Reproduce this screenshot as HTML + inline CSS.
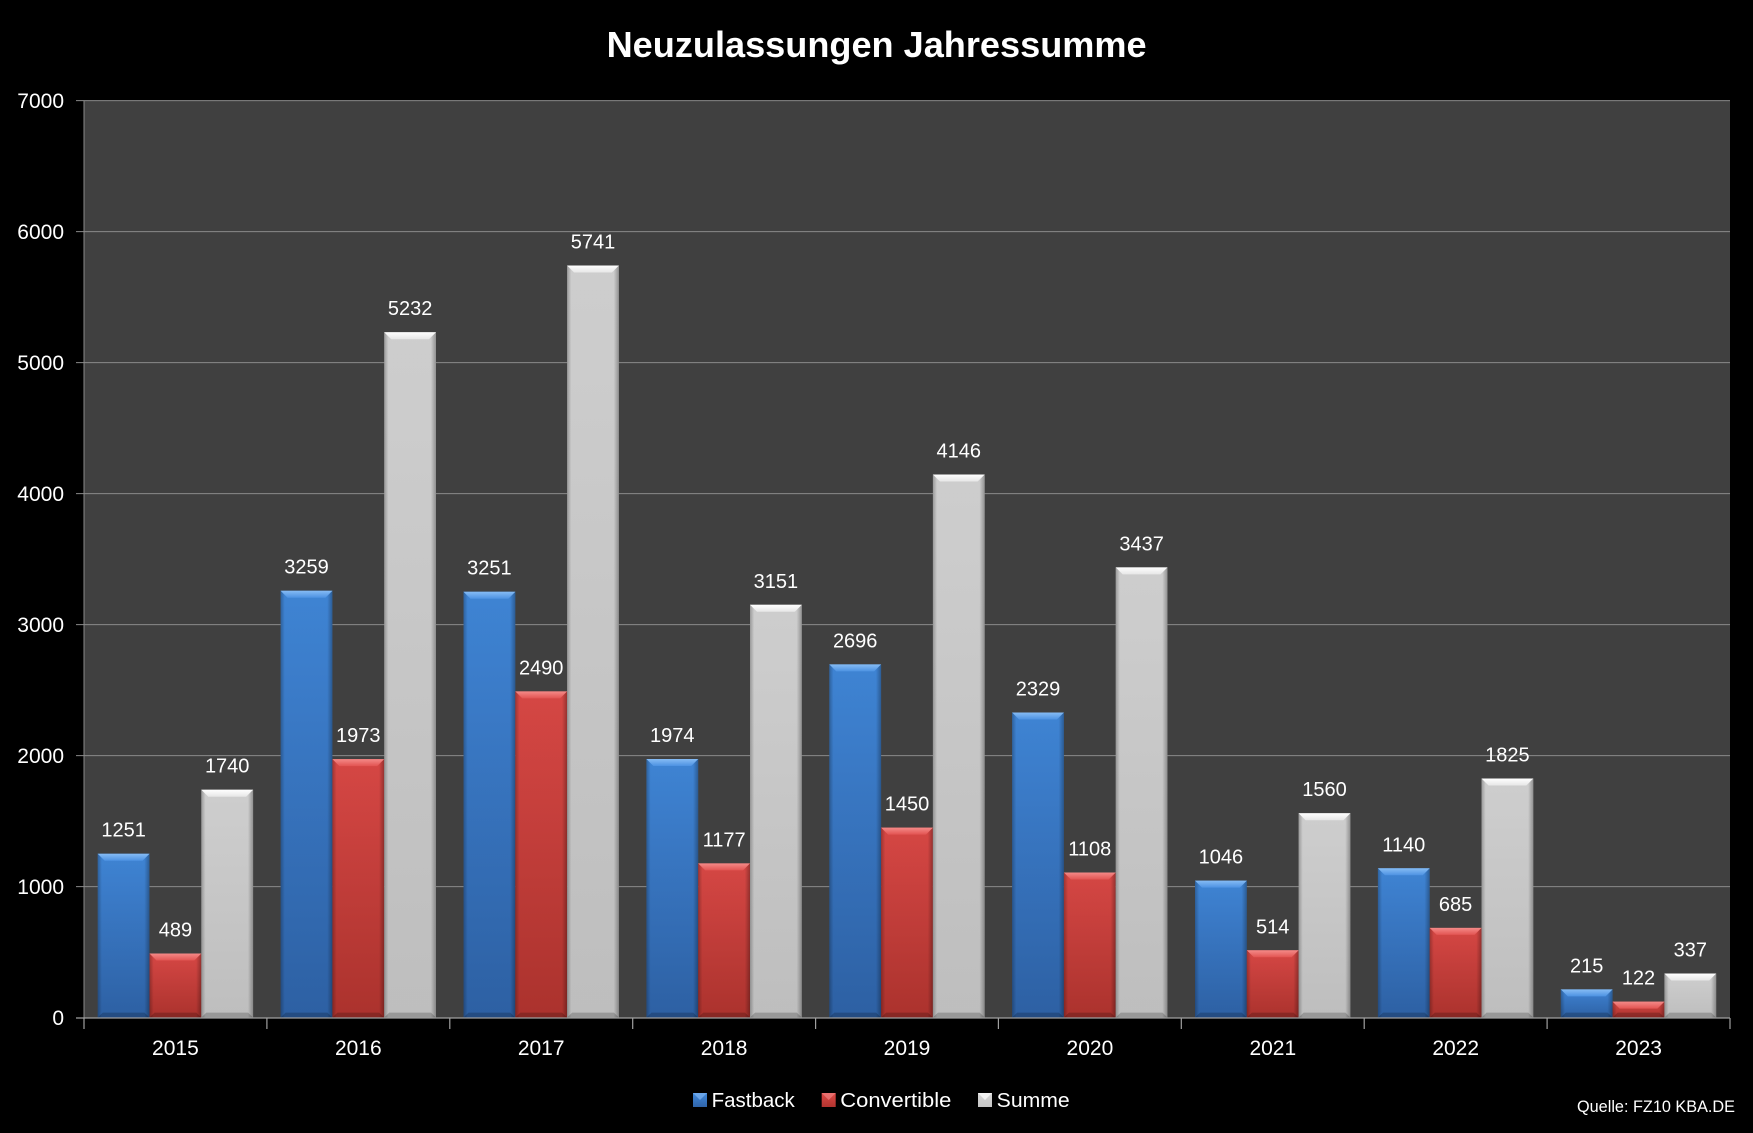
<!DOCTYPE html>
<html>
<head>
<meta charset="utf-8">
<style>
html,body{margin:0;padding:0;background:#000;}
body{width:1753px;height:1133px;overflow:hidden;}
svg{display:block;}
text{font-family:"Liberation Sans",Arial,sans-serif;fill:#fff;}
</style>
</head>
<body>
<svg width="1753" height="1133" viewBox="0 0 1753 1133" xmlns="http://www.w3.org/2000/svg">
<defs>
  <linearGradient id="gB" x1="0" y1="0" x2="0" y2="1"><stop offset="0" stop-color="#4189dc"/><stop offset="1" stop-color="#2f64aa"/></linearGradient>
  <linearGradient id="gR" x1="0" y1="0" x2="0" y2="1"><stop offset="0" stop-color="#de4a47"/><stop offset="1" stop-color="#b2342f"/></linearGradient>
  <linearGradient id="gG" x1="0" y1="0" x2="0" y2="1"><stop offset="0" stop-color="#d6d6d6"/><stop offset="1" stop-color="#c6c6c6"/></linearGradient>
  <linearGradient id="sd" x1="0" y1="0" x2="1" y2="0">
    <stop offset="0" stop-color="#000" stop-opacity="0.28"/>
    <stop offset="0.08" stop-color="#000" stop-opacity="0.04"/>
    <stop offset="0.9" stop-color="#000" stop-opacity="0.04"/>
    <stop offset="1" stop-color="#000" stop-opacity="0.32"/>
  </linearGradient>
  <linearGradient id="tB" x1="0" y1="0" x2="0" y2="1"><stop offset="0" stop-color="#86bcf4"/><stop offset="1" stop-color="#4d92e2"/></linearGradient>
  <linearGradient id="tR" x1="0" y1="0" x2="0" y2="1"><stop offset="0" stop-color="#f48a88"/><stop offset="1" stop-color="#e25452"/></linearGradient>
  <linearGradient id="tG" x1="0" y1="0" x2="0" y2="1"><stop offset="0" stop-color="#ffffff"/><stop offset="1" stop-color="#e6e6e6"/></linearGradient>
  <polygon id="topB" points="0,0 51.8,0 44.8,7 7,7" fill="url(#tB)"/>
  <polygon id="topR" points="0,0 51.8,0 44.8,7 7,7" fill="url(#tR)"/>
  <polygon id="topG" points="0,0 51.8,0 44.8,7 7,7" fill="url(#tG)"/>
  <polygon id="bot" points="0,1017.6 51.8,1017.6 46.8,1012.6 5,1012.6" fill="#000" fill-opacity="0.2"/>
</defs>

<rect x="0" y="0" width="1753" height="1133" fill="#000"/>

<!-- title -->
<text x="876.6" y="57" font-size="36" font-weight="bold" text-anchor="middle" textLength="540" lengthAdjust="spacingAndGlyphs">Neuzulassungen Jahressumme</text>

<!-- plot area -->
<rect x="84" y="100.6" width="1646" height="917" fill="#404040"/>

<!-- gridlines -->
<g stroke="#8a8a8a" stroke-width="1">
  <line x1="76" y1="100.6" x2="1730" y2="100.6"/>
  <line x1="76" y1="231.6" x2="1730" y2="231.6"/>
  <line x1="76" y1="362.6" x2="1730" y2="362.6"/>
  <line x1="76" y1="493.6" x2="1730" y2="493.6"/>
  <line x1="76" y1="624.6" x2="1730" y2="624.6"/>
  <line x1="76" y1="755.6" x2="1730" y2="755.6"/>
  <line x1="76" y1="886.6" x2="1730" y2="886.6"/>
</g>
<line x1="84" y1="100.6" x2="84" y2="1018" stroke="#8a8a8a" stroke-width="1"/>

<!-- y labels -->
<g font-size="21" text-anchor="end">
  <text x="64" y="108">7000</text>
  <text x="64" y="239">6000</text>
  <text x="64" y="370">5000</text>
  <text x="64" y="501">4000</text>
  <text x="64" y="632">3000</text>
  <text x="64" y="763">2000</text>
  <text x="64" y="894">1000</text>
  <text x="64" y="1025">0</text>
</g>

<!-- Fastback bars -->
<g>
  <rect x="97.7" y="853.7" width="51.8" height="163.9" fill="url(#gB)"/><rect x="97.7" y="853.7" width="51.8" height="163.9" fill="url(#sd)"/><use href="#topB" x="97.7" y="853.7"/><use href="#bot" x="97.7"/>
  <rect x="280.6" y="590.7" width="51.8" height="426.9" fill="url(#gB)"/><rect x="280.6" y="590.7" width="51.8" height="426.9" fill="url(#sd)"/><use href="#topB" x="280.6" y="590.7"/><use href="#bot" x="280.6"/>
  <rect x="463.5" y="591.7" width="51.8" height="425.9" fill="url(#gB)"/><rect x="463.5" y="591.7" width="51.8" height="425.9" fill="url(#sd)"/><use href="#topB" x="463.5" y="591.7"/><use href="#bot" x="463.5"/>
  <rect x="646.4" y="759.0" width="51.8" height="258.6" fill="url(#gB)"/><rect x="646.4" y="759.0" width="51.8" height="258.6" fill="url(#sd)"/><use href="#topB" x="646.4" y="759.0"/><use href="#bot" x="646.4"/>
  <rect x="829.3" y="664.4" width="51.8" height="353.2" fill="url(#gB)"/><rect x="829.3" y="664.4" width="51.8" height="353.2" fill="url(#sd)"/><use href="#topB" x="829.3" y="664.4"/><use href="#bot" x="829.3"/>
  <rect x="1012.1" y="712.5" width="51.8" height="305.1" fill="url(#gB)"/><rect x="1012.1" y="712.5" width="51.8" height="305.1" fill="url(#sd)"/><use href="#topB" x="1012.1" y="712.5"/><use href="#bot" x="1012.1"/>
  <rect x="1195.0" y="880.6" width="51.8" height="137.0" fill="url(#gB)"/><rect x="1195.0" y="880.6" width="51.8" height="137.0" fill="url(#sd)"/><use href="#topB" x="1195.0" y="880.6"/><use href="#bot" x="1195.0"/>
  <rect x="1377.9" y="868.3" width="51.8" height="149.3" fill="url(#gB)"/><rect x="1377.9" y="868.3" width="51.8" height="149.3" fill="url(#sd)"/><use href="#topB" x="1377.9" y="868.3"/><use href="#bot" x="1377.9"/>
  <rect x="1560.8" y="989.4" width="51.8" height="28.2" fill="url(#gB)"/><rect x="1560.8" y="989.4" width="51.8" height="28.2" fill="url(#sd)"/><use href="#topB" x="1560.8" y="989.4"/><use href="#bot" x="1560.8"/>
</g>

<!-- Convertible bars -->
<g>
  <rect x="149.5" y="953.5" width="51.8" height="64.1" fill="url(#gR)"/><rect x="149.5" y="953.5" width="51.8" height="64.1" fill="url(#sd)"/><use href="#topR" x="149.5" y="953.5"/><use href="#bot" x="149.5"/>
  <rect x="332.4" y="759.1" width="51.8" height="258.5" fill="url(#gR)"/><rect x="332.4" y="759.1" width="51.8" height="258.5" fill="url(#sd)"/><use href="#topR" x="332.4" y="759.1"/><use href="#bot" x="332.4"/>
  <rect x="515.3" y="691.4" width="51.8" height="326.2" fill="url(#gR)"/><rect x="515.3" y="691.4" width="51.8" height="326.2" fill="url(#sd)"/><use href="#topR" x="515.3" y="691.4"/><use href="#bot" x="515.3"/>
  <rect x="698.2" y="863.4" width="51.8" height="154.2" fill="url(#gR)"/><rect x="698.2" y="863.4" width="51.8" height="154.2" fill="url(#sd)"/><use href="#topR" x="698.2" y="863.4"/><use href="#bot" x="698.2"/>
  <rect x="881.1" y="827.6" width="51.8" height="190.0" fill="url(#gR)"/><rect x="881.1" y="827.6" width="51.8" height="190.0" fill="url(#sd)"/><use href="#topR" x="881.1" y="827.6"/><use href="#bot" x="881.1"/>
  <rect x="1063.9" y="872.5" width="51.8" height="145.1" fill="url(#gR)"/><rect x="1063.9" y="872.5" width="51.8" height="145.1" fill="url(#sd)"/><use href="#topR" x="1063.9" y="872.5"/><use href="#bot" x="1063.9"/>
  <rect x="1246.8" y="950.3" width="51.8" height="67.3" fill="url(#gR)"/><rect x="1246.8" y="950.3" width="51.8" height="67.3" fill="url(#sd)"/><use href="#topR" x="1246.8" y="950.3"/><use href="#bot" x="1246.8"/>
  <rect x="1429.7" y="927.9" width="51.8" height="89.7" fill="url(#gR)"/><rect x="1429.7" y="927.9" width="51.8" height="89.7" fill="url(#sd)"/><use href="#topR" x="1429.7" y="927.9"/><use href="#bot" x="1429.7"/>
  <rect x="1612.6" y="1001.6" width="51.8" height="16.0" fill="url(#gR)"/><rect x="1612.6" y="1001.6" width="51.8" height="16.0" fill="url(#sd)"/><use href="#topR" x="1612.6" y="1001.6"/><use href="#bot" x="1612.6"/>
</g>

<!-- Summe bars -->
<g>
  <rect x="201.3" y="789.7" width="51.8" height="227.9" fill="url(#gG)"/><rect x="201.3" y="789.7" width="51.8" height="227.9" fill="url(#sd)"/><use href="#topG" x="201.3" y="789.7"/><use href="#bot" x="201.3"/>
  <rect x="384.2" y="332.2" width="51.8" height="685.4" fill="url(#gG)"/><rect x="384.2" y="332.2" width="51.8" height="685.4" fill="url(#sd)"/><use href="#topG" x="384.2" y="332.2"/><use href="#bot" x="384.2"/>
  <rect x="567.1" y="265.5" width="51.8" height="752.1" fill="url(#gG)"/><rect x="567.1" y="265.5" width="51.8" height="752.1" fill="url(#sd)"/><use href="#topG" x="567.1" y="265.5"/><use href="#bot" x="567.1"/>
  <rect x="750.0" y="604.8" width="51.8" height="412.8" fill="url(#gG)"/><rect x="750.0" y="604.8" width="51.8" height="412.8" fill="url(#sd)"/><use href="#topG" x="750.0" y="604.8"/><use href="#bot" x="750.0"/>
  <rect x="932.9" y="474.5" width="51.8" height="543.1" fill="url(#gG)"/><rect x="932.9" y="474.5" width="51.8" height="543.1" fill="url(#sd)"/><use href="#topG" x="932.9" y="474.5"/><use href="#bot" x="932.9"/>
  <rect x="1115.7" y="567.4" width="51.8" height="450.2" fill="url(#gG)"/><rect x="1115.7" y="567.4" width="51.8" height="450.2" fill="url(#sd)"/><use href="#topG" x="1115.7" y="567.4"/><use href="#bot" x="1115.7"/>
  <rect x="1298.6" y="813.2" width="51.8" height="204.4" fill="url(#gG)"/><rect x="1298.6" y="813.2" width="51.8" height="204.4" fill="url(#sd)"/><use href="#topG" x="1298.6" y="813.2"/><use href="#bot" x="1298.6"/>
  <rect x="1481.5" y="778.5" width="51.8" height="239.1" fill="url(#gG)"/><rect x="1481.5" y="778.5" width="51.8" height="239.1" fill="url(#sd)"/><use href="#topG" x="1481.5" y="778.5"/><use href="#bot" x="1481.5"/>
  <rect x="1664.4" y="973.5" width="51.8" height="44.1" fill="url(#gG)"/><rect x="1664.4" y="973.5" width="51.8" height="44.1" fill="url(#sd)"/><use href="#topG" x="1664.4" y="973.5"/><use href="#bot" x="1664.4"/>
</g>

<!-- x axis line and ticks -->
<line x1="76" y1="1018" x2="1730" y2="1018" stroke="#a0a0a0" stroke-width="1.2"/>
<g stroke="#a0a0a0" stroke-width="1.2">
  <line x1="84" y1="1018" x2="84" y2="1029"/>
  <line x1="266.9" y1="1018" x2="266.9" y2="1029"/>
  <line x1="449.8" y1="1018" x2="449.8" y2="1029"/>
  <line x1="632.7" y1="1018" x2="632.7" y2="1029"/>
  <line x1="815.6" y1="1018" x2="815.6" y2="1029"/>
  <line x1="998.4" y1="1018" x2="998.4" y2="1029"/>
  <line x1="1181.3" y1="1018" x2="1181.3" y2="1029"/>
  <line x1="1364.2" y1="1018" x2="1364.2" y2="1029"/>
  <line x1="1547.1" y1="1018" x2="1547.1" y2="1029"/>
  <line x1="1730" y1="1018" x2="1730" y2="1029"/>
</g>

<!-- data labels -->
<g font-size="20" text-anchor="middle">
  <text x="123.6" y="836.7">1251</text>
  <text x="306.5" y="573.7">3259</text>
  <text x="489.4" y="574.7">3251</text>
  <text x="672.3" y="742">1974</text>
  <text x="855.2" y="647.4">2696</text>
  <text x="1038" y="695.5">2329</text>
  <text x="1220.9" y="863.6">1046</text>
  <text x="1403.8" y="851.3">1140</text>
  <text x="1586.7" y="972.4">215</text>

  <text x="175.4" y="936.5">489</text>
  <text x="358.3" y="742.1">1973</text>
  <text x="541.2" y="674.4">2490</text>
  <text x="724.1" y="846.4">1177</text>
  <text x="907" y="810.6">1450</text>
  <text x="1089.8" y="855.5">1108</text>
  <text x="1272.7" y="933.3">514</text>
  <text x="1455.6" y="910.9">685</text>
  <text x="1638.5" y="984.6">122</text>

  <text x="227.2" y="772.7">1740</text>
  <text x="410.1" y="315.2">5232</text>
  <text x="593" y="248.5">5741</text>
  <text x="775.9" y="587.8">3151</text>
  <text x="958.8" y="457.5">4146</text>
  <text x="1141.6" y="550.4">3437</text>
  <text x="1324.5" y="796.2">1560</text>
  <text x="1507.4" y="761.5">1825</text>
  <text x="1690.3" y="956.5">337</text>
</g>

<!-- x labels -->
<g font-size="21" text-anchor="middle">
  <text x="175.4" y="1055">2015</text>
  <text x="358.3" y="1055">2016</text>
  <text x="541.2" y="1055">2017</text>
  <text x="724.1" y="1055">2018</text>
  <text x="907" y="1055">2019</text>
  <text x="1089.9" y="1055">2020</text>
  <text x="1272.8" y="1055">2021</text>
  <text x="1455.7" y="1055">2022</text>
  <text x="1638.6" y="1055">2023</text>
</g>

<!-- legend -->
<g>
  <rect x="693" y="1093" width="14" height="14" fill="url(#gB)"/>
  <polygon points="693,1093 707,1093 700,1100" fill="#7db4f2" fill-opacity="0.7"/>
  <text x="711.7" y="1107" font-size="20" textLength="83" lengthAdjust="spacingAndGlyphs">Fastback</text>
  <rect x="821.7" y="1093" width="14" height="14" fill="url(#gR)"/>
  <polygon points="821.7,1093 835.7,1093 828.7,1100" fill="#f08080" fill-opacity="0.7"/>
  <text x="840.3" y="1107" font-size="20" textLength="111" lengthAdjust="spacingAndGlyphs">Convertible</text>
  <rect x="978" y="1093" width="14" height="14" fill="url(#gG)"/>
  <polygon points="978,1093 992,1093 985,1100" fill="#ffffff" fill-opacity="0.7"/>
  <text x="996.7" y="1107" font-size="20" textLength="73" lengthAdjust="spacingAndGlyphs">Summe</text>
</g>

<!-- source -->
<text x="1577" y="1112" font-size="16.5" textLength="158" lengthAdjust="spacingAndGlyphs">Quelle:  FZ10 KBA.DE</text>
</svg>
</body>
</html>
